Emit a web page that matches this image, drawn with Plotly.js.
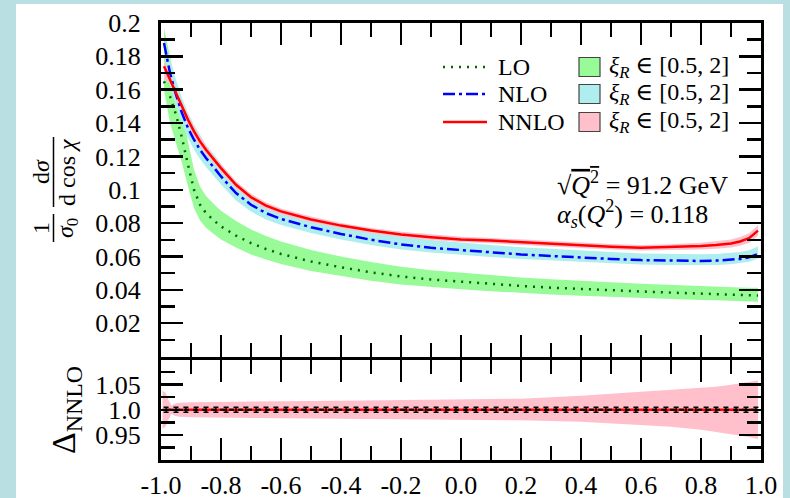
<!DOCTYPE html>
<html><head><meta charset="utf-8">
<script src="https://cdn.plot.ly/plotly-3.0.1.min.js"></script>
<style>
html,body{margin:0;padding:0;background:#b9dfe2;}
#wrap{position:relative;width:790px;height:498px;overflow:hidden;}
#white{position:absolute;left:16px;top:4px;width:767px;height:494px;background:#fff;}
#chart{position:absolute;left:0;top:0;width:790px;height:498px;}
</style></head><body>
<div id="wrap"><div id="white"></div><div id="chart"></div></div>
<script>
// ---- data ----
var cosChi = [-0.99,-0.97,-0.95,-0.93,-0.91,-0.89,-0.87,-0.85,-0.82,-0.8,-0.75,-0.7,-0.65,-0.6,-0.5,-0.4,-0.3,-0.2,-0.1,0.0,0.1,0.2,0.3,0.4,0.5,0.6,0.7,0.8,0.85,0.9,0.93,0.96,0.99];

var LO    = [0.165,0.156,0.145,0.131,0.115,0.100,0.091,0.086,0.081,0.078,0.0725,0.068,0.0645,0.0615,0.057,0.0535,0.0505,0.048,0.0462,0.0448,0.0435,0.0423,0.0413,0.0404,0.0397,0.039,0.0383,0.0377,0.0374,0.0371,0.037,0.0368,0.0366];
var LO_hi = [0.197,0.180,0.163,0.147,0.129,0.112,0.102,0.0963,0.0907,0.0874,0.0812,0.0762,0.0722,0.0689,0.0638,0.0599,0.0566,0.0538,0.0517,0.0502,0.0487,0.0474,0.0463,0.0452,0.0445,0.0437,0.0429,0.0422,0.0419,0.0416,0.0414,0.0413,0.0412];
var LO_lo = [0.160,0.140,0.128,0.116,0.102,0.089,0.0815,0.0772,0.0728,0.0702,0.0653,0.0612,0.0581,0.0554,0.0513,0.0482,0.0455,0.0432,0.0416,0.0403,0.0392,0.0381,0.0372,0.0364,0.0357,0.0351,0.0345,0.0339,0.0337,0.0334,0.0333,0.0331,0.0329];

var NLO    = [0.188,0.170,0.157,0.146,0.137,0.130,0.124,0.119,0.1125,0.108,0.098,0.091,0.086,0.0825,0.0775,0.0735,0.0700,0.0672,0.0652,0.0637,0.0625,0.0612,0.0602,0.0593,0.0585,0.0578,0.0574,0.0573,0.0575,0.0579,0.0585,0.0595,0.0615];
var NLO_hi = [0.192,0.178,0.166,0.155,0.146,0.139,0.133,0.127,0.1204,0.1156,0.1049,0.0974,0.0920,0.0883,0.0829,0.0786,0.0749,0.0719,0.0698,0.0682,0.0669,0.0655,0.0644,0.0635,0.0626,0.0618,0.0614,0.0613,0.0615,0.0620,0.0626,0.0637,0.0660];
var NLO_lo = [0.184,0.163,0.150,0.1395,0.131,0.124,0.1185,0.1137,0.1074,0.1031,0.0936,0.0869,0.0821,0.0788,0.0740,0.0702,0.0669,0.0642,0.0623,0.0608,0.0597,0.0584,0.0575,0.0566,0.0559,0.0552,0.0548,0.0547,0.0549,0.0553,0.0559,0.0568,0.0587];

var NNLO    = [0.174,0.166,0.157,0.149,0.142,0.135,0.129,0.124,0.117,0.113,0.103,0.0955,0.0905,0.0870,0.0822,0.0785,0.0755,0.0732,0.0715,0.0702,0.0695,0.0685,0.0675,0.0665,0.0658,0.0652,0.0655,0.0662,0.0668,0.0678,0.0690,0.0710,0.0755];
var NNLO_hi = [0.178,0.169,0.160,0.152,0.145,0.138,0.132,0.1265,0.1194,0.1153,0.1051,0.0975,0.0924,0.0888,0.0839,0.0801,0.0771,0.0748,0.0731,0.0718,0.0711,0.0701,0.0691,0.0681,0.0675,0.0669,0.0673,0.0682,0.0690,0.0702,0.0716,0.0739,0.0785];
var NNLO_lo = [0.166,0.164,0.154,0.146,0.139,0.132,0.126,0.1215,0.1146,0.1107,0.1009,0.0935,0.0886,0.0852,0.0805,0.0769,0.0739,0.0716,0.0699,0.0686,0.0679,0.0669,0.0659,0.0649,0.0641,0.0635,0.0637,0.0642,0.0646,0.0654,0.0664,0.0681,0.0725];

// ratio panel
var ratioX  = [-0.995,-0.985,-0.975,-0.965,-0.955,-0.94,-0.9,-0.8,-0.6,-0.4,-0.2,0.0,0.2,0.4,0.5,0.6,0.7,0.8,0.85,0.9,0.95,0.99];
var ratioC  = [1,1,1,1,1,1,1,1,1,1,1,1,1,1,1,1,1,1,1,1,1,1];
var ratioHi = [1.038,1.034,1.020,1.008,1.012,1.014,1.015,1.016,1.017,1.018,1.019,1.020,1.022,1.028,1.032,1.035,1.039,1.043,1.046,1.050,1.055,1.058];
var ratioLo = [0.962,0.966,0.980,0.992,0.988,0.986,0.985,0.984,0.983,0.982,0.981,0.980,0.979,0.976,0.973,0.970,0.966,0.960,0.956,0.952,0.947,0.942];

var binX = [-0.983,-0.95,-0.917,-0.883,-0.85,-0.817,-0.783,-0.75,-0.717,-0.683,-0.65,-0.617,-0.583,-0.55,-0.517,-0.483,-0.45,-0.417,-0.383,-0.35,-0.317,-0.283,-0.25,-0.217,-0.183,-0.15,-0.117,-0.083,-0.05,-0.017,0.017,0.05,0.083,0.117,0.15,0.183,0.217,0.25,0.283,0.317,0.35,0.383,0.417,0.45,0.483,0.517,0.55,0.583,0.617,0.65,0.683,0.717,0.75,0.783,0.817,0.85,0.883,0.917,0.95,0.983];
var binY = [1,1,1,1,1,1,1,1,1,1,1,1,1,1,1,1,1,1,1,1,1,1,1,1,1,1,1,1,1,1,1,1,1,1,1,1,1,1,1,1,1,1,1,1,1,1,1,1,1,1,1,1,1,1,1,1,1,1,1,1];
var binErr = [0.005,0.005,0.005,0.005,0.005,0.005,0.005,0.005,0.005,0.005,0.005,0.005,0.005,0.005,0.005,0.005,0.005,0.005,0.005,0.005,0.005,0.005,0.005,0.005,0.005,0.005,0.005,0.005,0.005,0.005,0.005,0.005,0.005,0.005,0.005,0.005,0.005,0.005,0.005,0.005,0.005,0.005,0.005,0.005,0.005,0.005,0.005,0.005,0.005,0.005,0.005,0.005,0.005,0.005,0.005,0.005,0.005,0.005,0.005,0.005];

var xTickVals = [-1.0,-0.8,-0.6,-0.4,-0.2,0.0,0.2,0.4,0.6,0.8,1.0];
var xTickText = ['-1.0','-0.8','-0.6','-0.4','-0.2','0.0','0.2','0.4','0.6','0.8','1.0'];
var yTickVals = [0.02,0.04,0.06,0.08,0.1,0.12,0.14,0.16,0.18,0.2];
var yTickText = ['0.02','0.04','0.06','0.08','0.1','0.12','0.14','0.16','0.18','0.2'];
var rTickVals = [0.95,1.0,1.05];
var rTickText = ['0.95','1.0','1.05'];

var seriesNames = ['LO','NLO','NNLO'];
var bandName = '<i>ξ</i><sub><i>R</i></sub> ∈ [0.5, 2]';

// ---- styles ----
var FONT = 'Liberation Serif, DejaVu Serif, serif';
var cGreen = '#98fb98', cCyan = '#aeeeee', cPink = '#ffc0cb';
var lineColors = ['#006400', '#0000ff', '#ff0000'];
var lineDashes = ['2px,6px', '12px,4px,3px,4px', 'solid'];
var bandColors = [cGreen, cCyan, cPink];

function band(x, lo, hi, col, xa, ya) {
  return [
    {x:x, y:lo, mode:'lines', line:{width:0}, hoverinfo:'skip', showlegend:false, xaxis:xa, yaxis:ya},
    {x:x, y:hi, mode:'lines', line:{width:0}, fill:'tonexty', fillcolor:col, hoverinfo:'skip', showlegend:false, xaxis:xa, yaxis:ya}
  ];
}

var traces = [];
traces = traces.concat(band(cosChi, LO_lo, LO_hi, cGreen, 'x', 'y'));
traces = traces.concat(band(cosChi, NLO_lo, NLO_hi, cCyan, 'x', 'y'));
traces = traces.concat(band(cosChi, NNLO_lo, NNLO_hi, cPink, 'x', 'y'));
[LO, NLO, NNLO].forEach(function(s, i){
  traces.push({x:cosChi, y:s, name:seriesNames[i], mode:'lines', line:{color:lineColors[i], width:2.5, dash:lineDashes[i]}, xaxis:'x', yaxis:'y', showlegend:false});
});
// ratio panel
traces = traces.concat(band(ratioX, ratioLo, ratioHi, cPink, 'x2', 'y2'));
traces.push({x:ratioX, y:ratioC, mode:'lines', line:{color:'#ff0000', width:2.5}, xaxis:'x2', yaxis:'y2', showlegend:false});
traces.push({x:binX, y:binY, mode:'lines', line:{color:'#000', width:2, dash:'5px,4px'},
  error_y:{type:'data', array:binErr, color:'#000', thickness:1.5, width:2.5},
  xaxis:'x2', yaxis:'y2', showlegend:false});

var tickFont = {family:FONT, size:26, color:'#000'};
function axisBase(extra) {
  var a = {showgrid:false, zeroline:false, showline:true, linewidth:3, linecolor:'#000', mirror:'ticks',
    ticks:'inside', ticklen:22, tickwidth:2.5, tickcolor:'#000', tickfont:tickFont, tickmode:'array'};
  for (var k in extra) a[k] = extra[k];
  return a;
}

var PL = 161, PR = 761, PT = 23, PB = 460;
function px(x){ return (x - PL) / (PR - PL); }
function py(y){ return (PB - y) / (PB - PT); }

var annotations = [
  {xref:'paper', yref:'paper', x:px(555), y:py(183), xanchor:'left', yanchor:'middle', showarrow:false,
    text:'√<span style="text-decoration:overline"><i>Q</i><sup>2</sup></span> = 91.2 GeV', font:{family:FONT, size:26}},
  {xref:'paper', yref:'paper', x:px(555), y:py(214), xanchor:'left', yanchor:'middle', showarrow:false,
    text:'<i>α<sub>s</sub></i>(<i>Q</i><sup>2</sup>) = 0.118', font:{family:FONT, size:26}},
  // y-axis title as two fractions: 1/σ0 · dσ/(d cos χ)
  {xref:'paper', yref:'paper', x:px(41), y:py(228), xanchor:'center', yanchor:'middle', showarrow:false, textangle:-90,
    text:'1', font:{family:FONT, size:24}},
  {xref:'paper', yref:'paper', x:px(67), y:py(228), xanchor:'center', yanchor:'middle', showarrow:false, textangle:-90,
    text:'<i>σ</i><sub>0</sub>', font:{family:FONT, size:24}},
  {xref:'paper', yref:'paper', x:px(41), y:py(172), xanchor:'center', yanchor:'middle', showarrow:false, textangle:-90,
    text:'d<i>σ</i>', font:{family:FONT, size:24}},
  {xref:'paper', yref:'paper', x:px(67), y:py(172), xanchor:'center', yanchor:'middle', showarrow:false, textangle:-90,
    text:'d cos <i>χ</i>', font:{family:FONT, size:24}},
  {xref:'paper', yref:'paper', x:px(66), y:py(410), xanchor:'center', yanchor:'middle', showarrow:false, textangle:-90,
    text:'Δ<sub>NNLO</sub>', font:{family:FONT, size:34}}
];
var shapes = [
  {type:'line', xref:'paper', yref:'paper', x0:px(53.5), x1:px(53.5), y0:py(214), y1:py(242), line:{color:'#000', width:1.5}},
  {type:'line', xref:'paper', yref:'paper', x0:px(53.5), x1:px(53.5), y0:py(137), y1:py(207), line:{color:'#000', width:1.5}}
];
// legend (two columns, drawn by hand)
var rowY = [67, 94, 122];
for (var i = 0; i < 3; i++) {
  shapes.push({type:'line', xref:'paper', yref:'paper', x0:px(443), x1:px(487), y0:py(rowY[i]), y1:py(rowY[i]),
    line:{color:lineColors[i], width:2.5, dash:lineDashes[i]}});
  annotations.push({xref:'paper', yref:'paper', x:px(496), y:py(rowY[i]), xanchor:'left', yanchor:'middle', showarrow:false,
    text:seriesNames[i], font:{family:FONT, size:24}});
  shapes.push({type:'rect', xref:'paper', yref:'paper', x0:px(579), x1:px(600), y0:py(rowY[i]-9.5), y1:py(rowY[i]+9.5),
    fillcolor:bandColors[i], line:{color:'#444', width:1.2}});
  annotations.push({xref:'paper', yref:'paper', x:px(607), y:py(rowY[i]), xanchor:'left', yanchor:'middle', showarrow:false,
    text:bandName, font:{family:FONT, size:24}});
}

var layout = {
  width:790, height:498,
  margin:{l:PL, r:790-PR, t:PT, b:498-PB, pad:0},
  paper_bgcolor:'rgba(0,0,0,0)', plot_bgcolor:'rgba(0,0,0,0)',
  font:{family:FONT, size:24, color:'#000'},
  showlegend:false,
  xaxis: axisBase({domain:[0,1], anchor:'y', range:[-1,1], tickvals:xTickVals, showticklabels:false,
    minor:{tickmode:'linear', tick0:-1, dtick:0.1, ticks:'inside', ticklen:14, tickwidth:2.5, tickcolor:'#000', showgrid:false}}),
  xaxis2: axisBase({domain:[0,1], anchor:'y2', range:[-1,1], tickvals:xTickVals, ticktext:xTickText, ticklabelstandoff:0,
    minor:{tickmode:'linear', tick0:-1, dtick:0.1, ticks:'inside', ticklen:14, tickwidth:2.5, tickcolor:'#000', showgrid:false}}),
  yaxis: axisBase({domain:[py(356.5),1], anchor:'x', range:[0,0.2], tickvals:yTickVals, ticktext:yTickText, ticklabelstandoff:12,
    minor:{tickmode:'linear', tick0:0, dtick:0.01, ticks:'inside', ticklen:14, tickwidth:2.5, tickcolor:'#000', showgrid:false}}),
  yaxis2: axisBase({domain:[0,py(359.5)], anchor:'x2', range:[0.9,1.1], tickvals:rTickVals, ticktext:rTickText, ticklabelstandoff:12,
    minor:{tickmode:'linear', tick0:0.9, dtick:0.025, ticks:'inside', ticklen:14, tickwidth:2.5, tickcolor:'#000', showgrid:false}}),
  annotations: annotations,
  shapes: shapes
};

Plotly.newPlot('chart', traces, layout, {displayModeBar:false, staticPlot:true});
</script></body></html>
